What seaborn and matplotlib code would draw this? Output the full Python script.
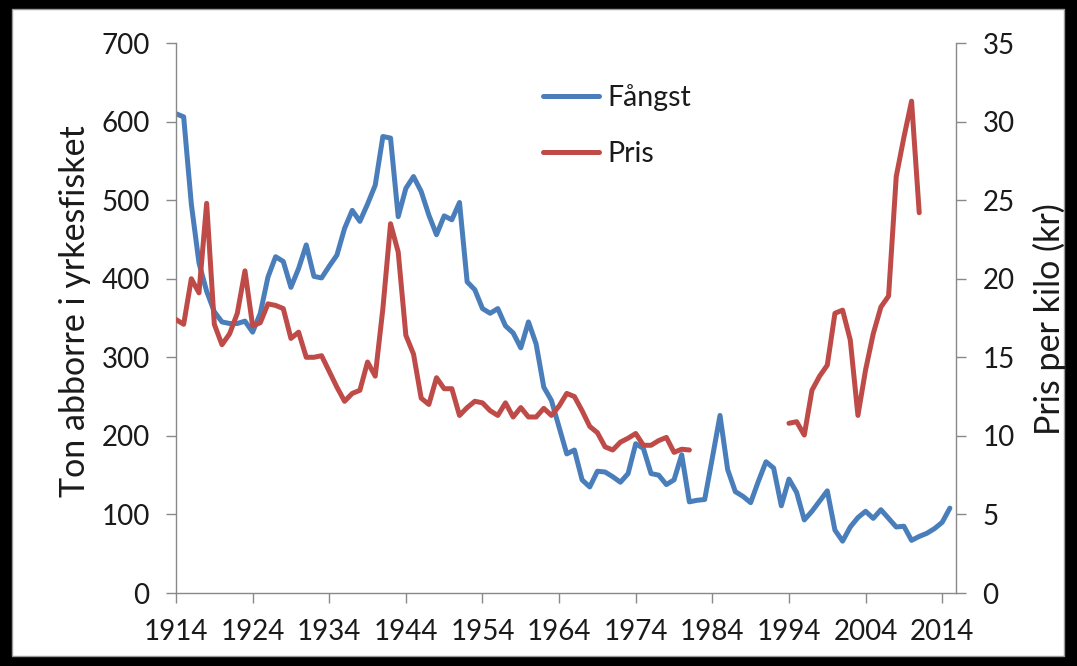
import numpy as np
import pandas as pd
import matplotlib
matplotlib.use("Agg")
import matplotlib.pyplot as plt
import seaborn as sns
from matplotlib.patches import Rectangle
from matplotlib.lines import Line2D

# Fångst (ton) per år, 1914-2015
fangst_years = np.arange(1914, 2016)
fangst = [610, 606, 495, 420, 384, 358, 345, 343, 343, 346,
          332, 356, 402, 428, 422, 389, 413, 443, 403, 401,
          416, 430, 464, 487, 473, 495, 519, 581, 579, 479,
          515, 530, 511, 481, 456, 480, 475, 497, 396, 386,
          362, 356, 362, 340, 331, 312, 345, 317, 262, 245,
          211, 177, 182, 144, 135, 155, 154, 148, 141, 152,
          190, 184, 152, 150, 138, 144, 176, 116, 118, 119,
          172, 226, 157, 129, 123, 115, 142, 167, 159, 111,
          145, 128, 93, 104, 117, 130, 80, 66, 84, 96,
          104, 95, 106, 95, 84, 85, 67, 72, 76, 82,
          90, 108]

# Pris (kr/kilo), 1914-1981 och 1994-2011
pris_years = np.r_[1914:1982, 1994:2012]
pris = [17.4, 17.1, 20.0, 19.1, 24.8, 17.1, 15.8, 16.5, 17.8, 20.5,
        17.0, 17.2, 18.4, 18.3, 18.1, 16.2, 16.6, 15.0, 15.0, 15.1,
        14.1, 13.1, 12.2, 12.7, 12.9, 14.7, 13.8, 18.1, 23.5, 21.7,
        16.4, 15.2, 12.4, 12.0, 13.7, 13.0, 13.0, 11.3, 11.8, 12.2,
        12.1, 11.6, 11.3, 12.1, 11.2, 11.8, 11.2, 11.2, 11.75, 11.3,
        11.9, 12.7, 12.5, 11.6, 10.6, 10.2, 9.3, 9.1, 9.6, 9.85,
        10.15, 9.4, 9.4, 9.7, 9.9, 8.95, 9.15, 9.1,
        10.8, 10.9, 10.05, 12.9, 13.8, 14.5, 17.8, 18.0, 16.1, 11.3,
        14.2, 16.5, 18.2, 18.9, 26.5, 29.0, 31.3, 24.2]

left_ticks = [0, 100, 200, 300, 400, 500, 600, 700]
right_ticks = [0, 5, 10, 15, 20, 25, 30, 35]
x_ticks = [1914, 1924, 1934, 1944, 1954, 1964, 1974, 1984, 1994, 2004, 2014]

BLUE = "#4A7EBB"
RED = "#BE4B48"
GRAY = "#898989"
TXT = "#1a1a1a"

df_f = pd.DataFrame({"year": fangst_years, "fangst": fangst})
df_p = pd.DataFrame({"year": pris_years, "pris": pris})
df_p["period"] = (df_p["year"].diff() > 1).cumsum()

sns.set_theme(style="white")
plt.rcParams['font.family'] = ['Lato', 'DejaVu Sans']

W, H = 1077, 666
fig = plt.figure(figsize=(W / 100, H / 100), dpi=100, facecolor="black")
fig.patches.append(Rectangle((12 / W, 1 - 656 / H), (1064 - 12) / W, (656 - 9) / H,
                             transform=fig.transFigure, facecolor="white",
                             edgecolor="#9a9a9a", lw=1, zorder=-10))

ax = fig.add_axes([176 / W, 1 - 593 / H, 780 / W, 550 / H])
ax.patch.set_alpha(0)
sns.lineplot(data=df_f, x="year", y="fangst", ax=ax, color=BLUE, lw=3.6,
             legend=False, solid_capstyle="round", solid_joinstyle="round")

ax2 = ax.twinx()
ax2.patch.set_alpha(0)
sns.lineplot(data=df_p, x="year", y="pris", units="period", estimator=None, ax=ax2,
             color=RED, lw=3.6, legend=False, solid_capstyle="round", solid_joinstyle="round")

ax.set_xlim(1914, 2015.8)
ax.set_ylim(0, 700)
ax2.set_ylim(0, 35)
ax.set_xticks(x_ticks)
ax.set_yticks(left_ticks)
ax2.set_yticks(right_ticks)
ax.set_xlabel("")
ax.set_ylabel("")
ax2.set_ylabel("")

for a in (ax, ax2):
    for s in a.spines.values():
        s.set_color(GRAY)
        s.set_linewidth(1)
    a.spines["top"].set_visible(False)
ax.spines["right"].set_visible(False)
ax2.spines["left"].set_visible(False)
ax2.spines["bottom"].set_visible(False)

ax.tick_params(axis="x", direction="out", length=7, width=1, color=GRAY,
               labelsize=20, labelcolor=TXT, pad=12, bottom=True)
ax.tick_params(axis="y", direction="out", length=7, width=1, color=GRAY,
               labelsize=20, labelcolor=TXT, pad=12, left=True)
ax2.tick_params(axis="y", direction="out", length=7, width=1, color=GRAY,
                labelsize=20, labelcolor=TXT, pad=12, right=True)

fig.text(75 / W, 1 - 311 / H, "Ton abborre i yrkesfisket", rotation=90,
         ha="center", va="center", fontsize=24.5, color=TXT)
fig.text(1049 / W, 1 - 319 / H, "Pris per kilo (kr)", rotation=90,
         ha="center", va="center", fontsize=24.5, color=TXT)

handles = [Line2D([], [], color=BLUE, lw=3.6), Line2D([], [], color=RED, lw=3.6)]
fig.legend(handles, ["Fångst", "Pris"], loc="upper left",
           bbox_to_anchor=(543 / W, 1 - 84 / H), frameon=False, fontsize=20.5,
           handlelength=1.95, handletextpad=0.3, labelspacing=1.05,
           borderpad=0, borderaxespad=0, labelcolor=TXT)

fig.savefig("out.png", dpi=100, facecolor=fig.get_facecolor())
